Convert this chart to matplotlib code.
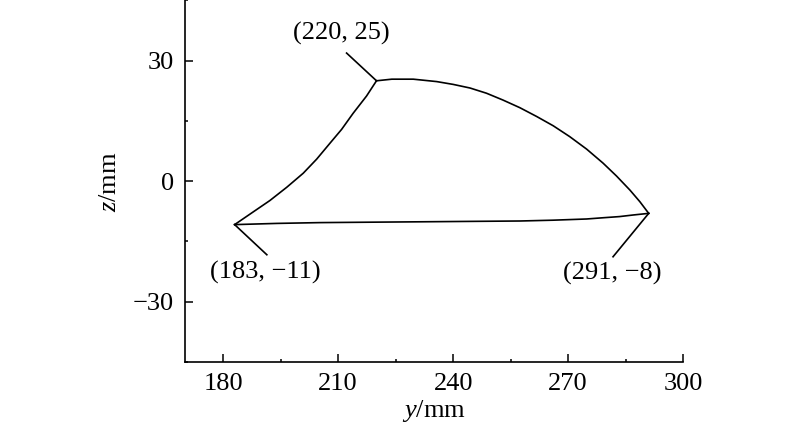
import matplotlib.pyplot as plt
from matplotlib.ticker import MultipleLocator

# traced boundary of the profile (y, z in mm)
left_y = [183.0, 187.9, 192.2, 196.6, 200.9, 204.4, 207.9, 210.9, 213.9, 217.4, 220.0]
left_z = [-10.8, -7.6, -4.8, -1.5, 2.0, 5.5, 9.5, 12.9, 16.9, 21.2, 25.0]

top_y = [220.0, 224.0, 229.6, 235.7, 240.0, 244.4, 248.7, 253.0, 257.4, 261.8,
         266.1, 270.4, 274.8, 279.1, 282.6, 286.1, 288.7, 291.0]
top_z = [25.0, 25.4, 25.4, 24.8, 24.1, 23.2, 21.9, 20.2, 18.3, 16.1,
         13.8, 11.1, 8.0, 4.5, 1.3, -2.2, -5.1, -8.0]

bottom_y = [291.0, 287.0, 283.4, 279.0, 274.8, 266.0, 257.4, 244.0, 231.3, 218.0, 205.3, 194.0, 183.0]
bottom_z = [-8.0, -8.4, -8.8, -9.1, -9.4, -9.7, -9.9, -10.0, -10.1, -10.2, -10.3, -10.5, -10.8]

# corner labels: (point, leader end, text position, text)
corners = [
    ((220, 25), (212.2, 31.9), (210.9, 36.7), "(220, 25)"),
    ((183, -10.8), (191.4, -18.3), (190.9, -22.7), "(183, \u221211)"),
    ((291, -8), (281.7, -18.8), (281.5, -22.9), "(291, \u22128)"),
]

x_ticks = [180, 210, 240, 270, 300]
y_ticks = [-30, 0, 30]

plt.rcParams['font.family'] = ['Liberation Serif', 'DejaVu Serif']
plt.rcParams['mathtext.fontset'] = 'custom'
plt.rcParams['mathtext.rm'] = 'Liberation Serif'
plt.rcParams['mathtext.it'] = 'Liberation Serif:italic'

fig = plt.figure(figsize=(8, 4.32), dpi=100)
ax = fig.add_axes([0.231, 0.162, 0.623, 0.837])

lw = 1.2
ax.plot(left_y, left_z, color='black', lw=lw)
ax.plot(top_y, top_z, color='black', lw=lw)
ax.plot(bottom_y, bottom_z, color='black', lw=lw)

for (px, pz), (ly, lz), (ty, tz), txt in corners:
    ax.plot([px, ly], [pz, lz], color='black', lw=lw)
    ax.text(ty, tz, txt, fontsize=19, ha='center', va='center')

ax.set_xlim(170, 300)
ax.set_ylim(-45, 45)
ax.set_xticks(x_ticks)
ax.set_yticks(y_ticks)
ax.xaxis.set_minor_locator(MultipleLocator(15))
ax.yaxis.set_minor_locator(MultipleLocator(15))

ax.spines['top'].set_visible(False)
ax.spines['right'].set_visible(False)
for s in ['left', 'bottom']:
    ax.spines[s].set_linewidth(1.2)

ax.tick_params(which='major', direction='in', length=5.5, width=1.1,
               labelsize=19, pad=8)
ax.tick_params(which='minor', direction='in', length=2.5, width=1.1)

ax.set_xlabel('$y$/mm', fontsize=19, labelpad=2)
ax.set_ylabel('$z$/mm', fontsize=19, labelpad=8)

fig.savefig('out.png', dpi=100)
